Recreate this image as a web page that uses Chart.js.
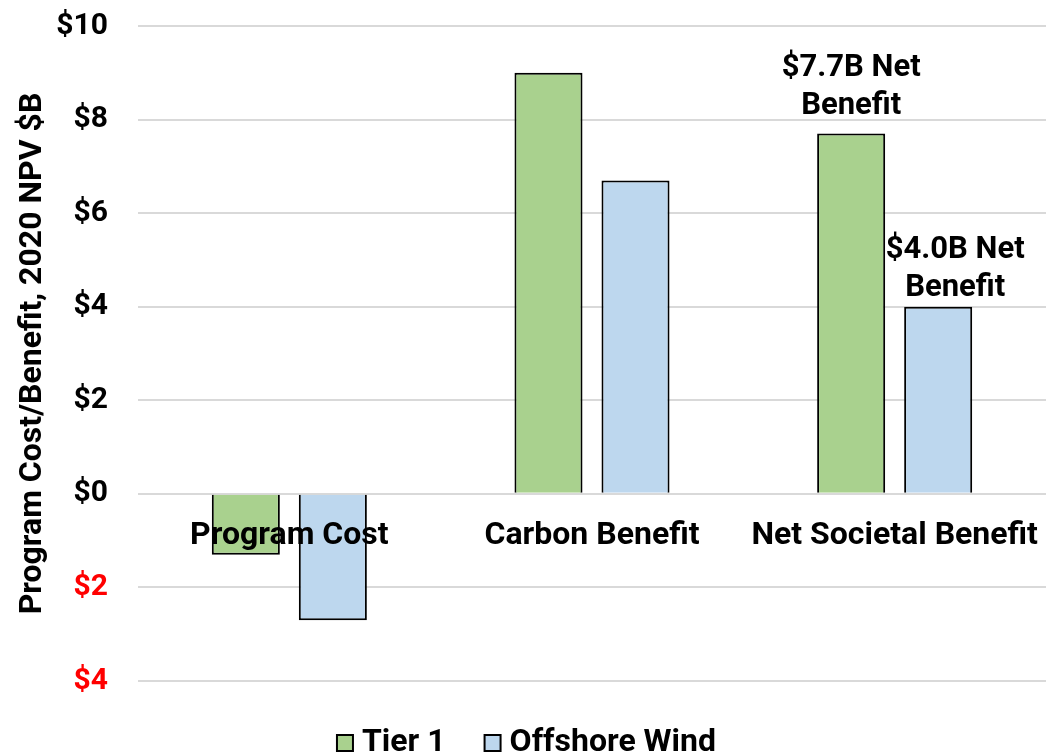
<!DOCTYPE html>
<html>
<head>
<meta charset="utf-8">
<script src="https://cdn.jsdelivr.net/npm/chart.js@4/dist/chart.umd.min.js"></script>
<style>
  html, body { margin: 0; padding: 0; background: #ffffff; }
  #wrap { width: 1046px; height: 754px; position: relative; }
</style>
</head>
<body>
<div id="wrap"><canvas id="c" width="1046" height="754"></canvas></div>
<script>
// ---- data ----
const categories = ['Program Cost', 'Carbon Benefit', 'Net Societal Benefit'];
const seriesNames = ['Tier 1', 'Offshore Wind'];
const tier1Values = [-1.3, 9.0, 7.7];
const offshoreWindValues = [-2.7, 6.7, 4.0];
const yTickValues = [-4, -2, 0, 2, 4, 6, 8, 10];
const yAxisTitle = 'Program Cost/Benefit, 2020 NPV $B';
const annotationTexts = [
  ['$7.7B Net', 'Benefit'],
  ['$4.0B Net', 'Benefit']
];
const annotationTargets = [ [0, 2], [1, 2] ]; // [datasetIndex, categoryIndex]

// ---- styles ----
const FONT = 'Roboto, "Noto Sans", sans-serif';
const annotationOffsets = [ {dx: 0, dy: -27}, {dx: 17, dy: -18} ];

const annotationPlugin = {
  id: 'barNotes',
  afterDatasetsDraw(chart) {
    const ctx = chart.ctx;
    ctx.save();
    ctx.font = 'bold 31px ' + FONT;
    ctx.fillStyle = '#000000';
    ctx.textAlign = 'center';
    ctx.textBaseline = 'middle';
    annotationTargets.forEach((t, i) => {
      const el = chart.getDatasetMeta(t[0]).data[t[1]];
      const lines = annotationTexts[i];
      const off = annotationOffsets[i];
      const x = el.x + off.dx;
      const yLast = el.y + off.dy;
      lines.forEach((ln, k) => {
        const y = yLast - (lines.length - 1 - k) * 38;
        ctx.fillText(ln, x, y);
      });
    });
    ctx.restore();
  }
};

new Chart(document.getElementById('c'), {
  type: 'bar',
  data: {
    labels: categories,
    datasets: [
      {
        label: seriesNames[0],
        data: tier1Values,
        backgroundColor: '#A9D18E',
        borderColor: '#000000',
        borderWidth: 2
      },
      {
        label: seriesNames[1],
        data: offshoreWindValues,
        backgroundColor: '#BDD7EE',
        borderColor: '#000000',
        borderWidth: 2
      }
    ]
  },
  options: {
    responsive: false,
    animation: false,
    devicePixelRatio: 1,
    layout: { padding: { top: 5, right: 0, bottom: -15, left: 14 } },
    datasets: {
      bar: { categoryPercentage: 0.575, barPercentage: 0.782 }
    },
    scales: {
      x: {
        position: { y: -0.48 },
        grid: { display: false, drawTicks: false },
        border: { display: false },
        ticks: {
          z: 1,
          color: '#000000',
          font: { family: FONT, size: 32, weight: 'bold' },
          padding: 0,
          maxRotation: 0,
          autoSkip: false
        }
      },
      y: {
        min: -4,
        max: 10,
        afterBuildTicks(scale) {
          scale.ticks = yTickValues.map(v => ({ value: v }));
        },
        afterFit(scale) { scale.width = 124; },
        grid: {
          color: '#D9D9D9',
          lineWidth: 2,
          drawTicks: true,
          tickLength: 22,
          tickColor: 'rgba(0,0,0,0)'
        },
        border: { display: false },
        ticks: {
          padding: 8,
          font: { family: FONT, size: 30, weight: 'bold' },
          color: (c) => (c.tick && c.tick.value < 0) ? '#FF0000' : '#000000',
          callback: (v) => '$' + Math.abs(v)
        },
        title: {
          display: true,
          text: yAxisTitle,
          color: '#000000',
          font: { family: FONT, size: 32, weight: 'bold' },
          padding: { top: 0, bottom: 0 }
        }
      }
    },
    plugins: {
      legend: {
        position: 'bottom',
        labels: {
          color: '#000000',
          font: { family: FONT, size: 32, weight: 'bold' },
          usePointStyle: true,
          pointStyle: 'rect',
          boxWidth: 2,
          boxHeight: 16,
          padding: 46
        }
      },
      tooltip: { enabled: false }
    }
  },
  plugins: [annotationPlugin]
});
</script>
</body>
</html>
